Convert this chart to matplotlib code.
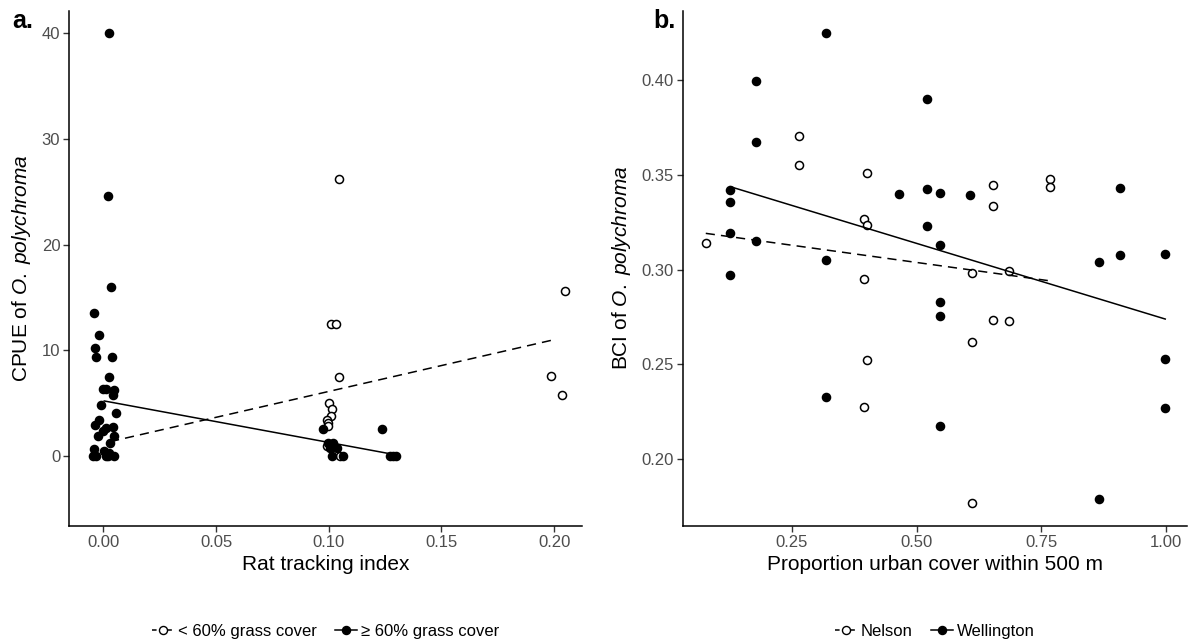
import numpy as np
import matplotlib.pyplot as plt
from matplotlib.lines import Line2D
from matplotlib.ticker import StrMethodFormatter

plt.rcParams['font.family'] = ['Liberation Sans', 'DejaVu Sans']
plt.rcParams['mathtext.fontset'] = 'custom'
plt.rcParams['mathtext.rm'] = 'Liberation Sans'
plt.rcParams['mathtext.it'] = 'Liberation Sans:italic'

# Panel a: rat tracking index vs CPUE, split by grass cover
rti_low = [0.1047, 0.1010, 0.1033, 0.1047, 0.0999, 0.1016, 0.1010, 0.0992, 0.0998,
           0.0995, 0.0991, 0.1051, 0.2049, 0.1988, 0.2035]
cpue_low = [26.2, 12.5, 12.5, 7.47, 5.04, 4.45, 3.81, 3.38, 3.09,
            2.84, 0.95, 0.03, 15.58, 7.6, 5.74]
rti_high = [0.0027, 0.0021, 0.0034, -0.0041, -0.0019, -0.0038, -0.0032, 0.0037, 0.0027,
            -0.0001, 0.0013, 0.0047, 0.0042, -0.0010, 0.0056, -0.0020, -0.0037, 0.0013,
            -0.0001, 0.0042, -0.0022, 0.0047, 0.0030, -0.0040, -0.0047, -0.0032, 0.0004,
            0.0012, 0.0027, 0.0047, 0.0020,
            0.0973, 0.1236, 0.0998, 0.1020, 0.1005, 0.1038, 0.1013, 0.1062, 0.1271,
            0.1286, 0.1298]
cpue_high = [40.0, 24.57, 16.02, 13.56, 11.48, 10.22, 9.34, 9.34, 7.45,
             6.31, 6.31, 6.24, 5.77, 4.82, 4.04, 3.41, 2.93, 2.62,
             2.37, 2.71, 1.89, 1.89, 1.2, 0.63, 0.03, 0.03, 0.5,
             0.0, 0.26, 0.0, 0.0,
             2.52, 2.52, 1.2, 1.2, 0.73, 0.73, 0.03, 0.03, 0.0,
             0.0, 0.0]
fit_low_x = [0.003, 0.2008]
fit_low_y = [1.35, 11.04]
fit_high_x = [0.0004, 0.1286]
fit_high_y = [5.2, 0.15]

# Panel b: urban cover vs body condition, by city
urb_nel = [0.2646, 0.2646, 0.4008, 0.3948, 0.4008, 0.0777, 0.3948, 0.4008, 0.3948,
           0.6539, 0.7680, 0.7680, 0.6539, 0.6118, 0.6853, 0.6539, 0.6853, 0.6118, 0.6118]
bci_nel = [0.3703, 0.3553, 0.3508, 0.3265, 0.3237, 0.3139, 0.2952, 0.2523, 0.2275,
           0.3446, 0.3480, 0.3436, 0.3337, 0.2984, 0.2991, 0.2734, 0.2727, 0.2617, 0.1769]
urb_wel = [0.3187, 0.179, 0.520, 0.179, 0.127, 0.4656, 0.520, 0.5477, 0.127,
           0.520, 0.127, 0.179, 0.5477, 0.3187, 0.127, 0.5477, 0.5477, 0.3187, 0.5477,
           0.6066, 0.9063, 0.8656, 0.9063, 0.9978, 0.9978, 0.9978, 0.8656]
bci_wel = [0.4246, 0.3996, 0.390, 0.3673, 0.3418, 0.3397, 0.3427, 0.3404, 0.3355,
           0.3228, 0.3193, 0.3153, 0.3128, 0.3052, 0.2973, 0.2831, 0.2755, 0.2328, 0.2177,
           0.3392, 0.3429, 0.3042, 0.3075, 0.3081, 0.2527, 0.2270, 0.1789]
fit_nel_x = [0.0777, 0.768]
fit_nel_y = [0.3191, 0.294]
fit_wel_x = [0.127, 0.9978]
fit_wel_y = [0.3437, 0.2739]

fig = plt.figure(figsize=(11.93, 6.42), dpi=100)
ax1 = fig.add_axes([0.0581, 0.1812, 0.4295, 0.8017])
ax2 = fig.add_axes([0.5723, 0.1812, 0.4225, 0.8017])

ms = 5.8
lw = 1.1
dash = (6, 4)
for ax in (ax1, ax2):
    for s in ['top', 'right']:
        ax.spines[s].set_visible(False)
    for s in ['left', 'bottom']:
        ax.spines[s].set_linewidth(1.1)
    ax.tick_params(direction='out', length=4, width=1, color='#333333',
                   labelcolor='#4D4D4D', labelsize=12, pad=2.5)

# Panel a
ax1.plot(rti_low, cpue_low, 'o', ms=ms, mfc='white', mec='black', mew=1.1, zorder=3)
ax1.plot(rti_high, cpue_high, 'o', ms=ms, mfc='black', mec='black', mew=1.1, zorder=3)
ax1.plot(fit_low_x, fit_low_y, '--', color='black', lw=lw, dashes=dash, zorder=4)
ax1.plot(fit_high_x, fit_high_y, '-', color='black', lw=lw, zorder=4)
ax1.set_xlim(-0.0151, 0.2122)
ax1.set_ylim(-6.6, 42.1)
ax1.set_xticks([0.0, 0.05, 0.10, 0.15, 0.20])
ax1.set_yticks([0, 10, 20, 30, 40])
ax1.xaxis.set_major_formatter(StrMethodFormatter('{x:.2f}'))
ax1.set_xlabel('Rat tracking index', fontsize=15, labelpad=4)
ax1.set_ylabel(r'CPUE of $\mathit{O.\ polychroma}$', fontsize=15, labelpad=6)
leg1 = [Line2D([], [], ls='--', color='black', lw=lw, marker='o', ms=ms, mfc='white', mec='black', dashes=(3, 2)),
        Line2D([], [], ls='-', color='black', lw=lw, marker='o', ms=ms, mfc='black', mec='black')]
ax1.legend(leg1, ['< 60% grass cover', '\u2265 60% grass cover'], loc='center',
           bbox_to_anchor=(0.5, -0.205), ncol=2, frameon=False, fontsize=12,
           handlelength=1.3, handletextpad=0.25, columnspacing=1.1)
fig.text(0.010, 0.956, 'a.', fontsize=18, fontweight='bold', va='baseline')

# Panel b
ax2.plot(urb_nel, bci_nel, 'o', ms=ms, mfc='white', mec='black', mew=1.1, zorder=3)
ax2.plot(urb_wel, bci_wel, 'o', ms=ms, mfc='black', mec='black', mew=1.1, zorder=3)
ax2.plot(fit_nel_x, fit_nel_y, '--', color='black', lw=lw, dashes=dash, zorder=4)
ax2.plot(fit_wel_x, fit_wel_y, '-', color='black', lw=lw, zorder=4)
ax2.set_xlim(0.0316, 1.041)
ax2.set_ylim(0.1649, 0.4364)
ax2.set_xticks([0.25, 0.50, 0.75, 1.00])
ax2.set_yticks([0.20, 0.25, 0.30, 0.35, 0.40])
ax2.xaxis.set_major_formatter(StrMethodFormatter('{x:.2f}'))
ax2.yaxis.set_major_formatter(StrMethodFormatter('{x:.2f}'))
ax2.set_xlabel('Proportion urban cover within 500 m', fontsize=15, labelpad=4)
ax2.set_ylabel(r'BCI of $\mathit{O.\ polychroma}$', fontsize=15, labelpad=6)
leg2 = [Line2D([], [], ls='--', color='black', lw=lw, marker='o', ms=ms, mfc='white', mec='black', dashes=(3, 2)),
        Line2D([], [], ls='-', color='black', lw=lw, marker='o', ms=ms, mfc='black', mec='black')]
ax2.legend(leg2, ['Nelson', 'Wellington'], loc='center',
           bbox_to_anchor=(0.5, -0.205), ncol=2, frameon=False, fontsize=12,
           handlelength=1.3, handletextpad=0.25, columnspacing=1.1)
fig.text(0.548, 0.956, 'b.', fontsize=18, fontweight='bold', va='baseline')

fig.savefig('out.png', dpi=100)
